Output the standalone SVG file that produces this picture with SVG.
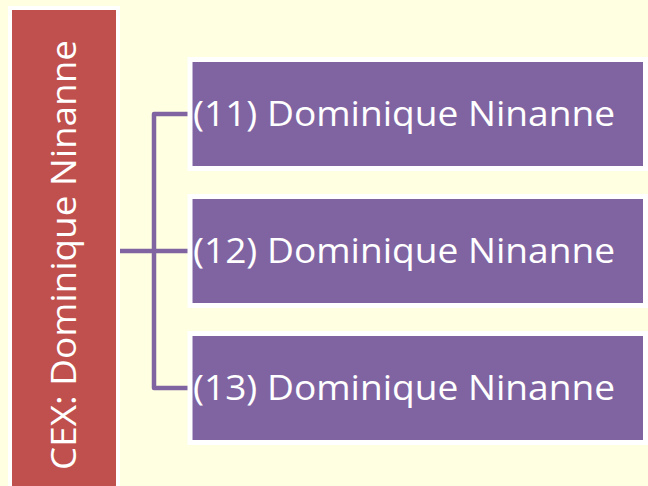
<svg xmlns="http://www.w3.org/2000/svg" width="648" height="486" viewBox="0 0 648 486">
  <style>
    .lbl { font-family: "Open Sans", "Liberation Sans", sans-serif; font-size: 35px; fill: #FFFFFF; }
    .child { fill: #8064A2; stroke: #FFFFFF; stroke-width: 5; }
    .conn { fill: none; stroke: #8064A2; stroke-width: 4.5; stroke-linejoin: round; stroke-linecap: butt; }
  </style>
  <rect x="0" y="0" width="648" height="486" fill="#FFFFE1"/>
  <g id="connectors">
    <path class="conn" d="M120,251 H154"/>
    <path class="conn" d="M189,114 H154 V388 H189"/>
    <path class="conn" d="M154,251 H189"/>
  </g>
  <g id="root">
    <rect x="10" y="8" width="108" height="500" fill="#C0504D" stroke="#FFFFFF" stroke-width="4"/>
    <text class="lbl" transform="translate(76,255) rotate(-90)" text-anchor="middle" textLength="430" lengthAdjust="spacingAndGlyphs">CEX: Dominique Ninanne</text>
  </g>
  <g id="node11">
    <rect class="child" x="190" y="59.5" width="455.5" height="109"/>
    <text class="lbl" x="193" y="126" textLength="422" lengthAdjust="spacingAndGlyphs">(11) Dominique Ninanne</text>
  </g>
  <g id="node12">
    <rect class="child" x="190" y="196.5" width="455.5" height="109"/>
    <text class="lbl" x="193" y="263" textLength="422" lengthAdjust="spacingAndGlyphs">(12) Dominique Ninanne</text>
  </g>
  <g id="node13">
    <rect class="child" x="190" y="333.5" width="455.5" height="109"/>
    <text class="lbl" x="193" y="400" textLength="422" lengthAdjust="spacingAndGlyphs">(13) Dominique Ninanne</text>
  </g>
</svg>
